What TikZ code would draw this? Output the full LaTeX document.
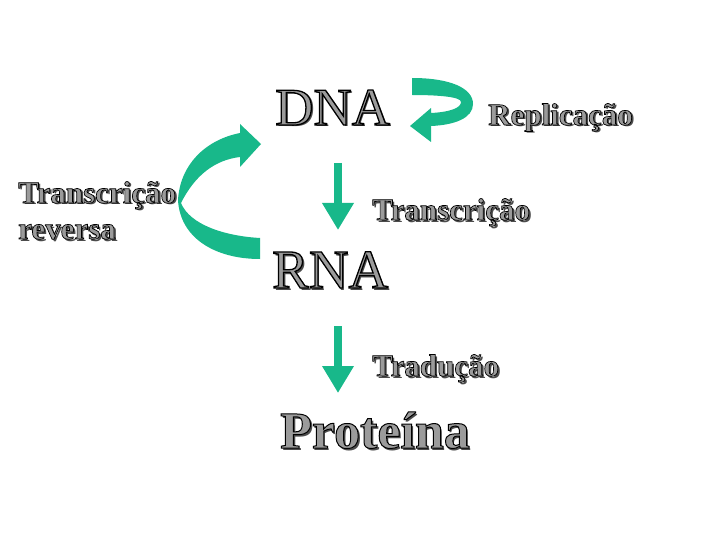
\documentclass[tikz,border=0pt]{standalone}
\usepackage{fontspec}
\setmainfont{Liberation Serif}
\usepackage{xcolor}
\usetikzlibrary{arrows.meta,calc,positioning}
\definecolor{seta}{RGB}{24,184,138}
\definecolor{letra}{RGB}{155,155,155}
% letras em relevo: sombra escura + contorno preto
\newcommand{\contorno}[2]{\special{pdf:code 0 0 0 RG #1 w 2 Tr}#2\special{pdf:code 0 Tr}}
\newcommand{\relevo}[2][0.7]{\rlap{\kern2pt\raisebox{-2pt}{\color{black!70}#2}}\contorno{#1}{#2}}
\tikzset{
  palavra/.style={anchor=base west,inner sep=0pt,text=letra},
  grande/.style={palavra,font=\fontsize{53}{53}\selectfont},
  rotulo/.style={palavra,font=\fontsize{31}{31}\selectfont\bfseries},
  fluxo/.style={draw=seta,line width=8pt,-{Triangle[width=30pt,length=27pt]}}
}
\begin{document}
\begin{tikzpicture}[x=1pt,y=-1pt]
  \useasboundingbox (0,0) rectangle (720,540);
  % moleculas
  \node[grande] (dna) at (275,125) {\relevo[1.3]{DNA}};
  \node[grande,font=\fontsize{55}{55}\selectfont] (rna) at (272,288) {\relevo[1.3]{RNA}};
  \node[grande,font=\fontsize{52}{52}\selectfont\bfseries] (prot) at (280,448) {\relevo[1]{Proteína}};
  % processos
  \node[rotulo] (repl) at (488,125) {\relevo{Replicação}};
  \node[rotulo] (transc) at (372,220) {\relevo{Transcrição}};
  \node[rotulo] (trad) at (372,376) {\relevo{Tradução}};
  \node[rotulo] (rev1) at (18,203) {\relevo{Transcrição}};
  \node[rotulo,below=36pt of rev1.base west,anchor=base west] (rev2) {\relevo{reversa}};
  % setas retas
  \coordinate (d1) at (338,163); \coordinate (r1) at (338,230);
  \coordinate (r2) at (338,326); \coordinate (p2) at (338,393);
  \draw[fluxo] (d1) -- (r1);
  \draw[fluxo] (r2) -- (p2);
  % replicacao
  \fill[seta] (412,78) .. controls (450,78) and (473,88) .. (473,104)
    .. controls (473,118) and (455,125) .. (431,126)
    -- (431,142) -- (410,126) -- (431,108) -- (431,113)
    .. controls (450,112) and (461,108) .. (461,102)
    .. controls (461,97) and (440,95) .. (412,95) -- cycle;
  % transcricao reversa
  \fill[seta] (240,133) .. controls (205,140) and (180,165) .. (178,200)
    .. controls (180,238) and (215,259) .. (260,259)
    -- (260,238) .. controls (225,236) and (190,225) .. (181,203)
    .. controls (195,175) and (215,160) .. (240,157)
    -- (240,167) -- (261,144) -- (240,124) -- cycle;
\end{tikzpicture}
\end{document}
